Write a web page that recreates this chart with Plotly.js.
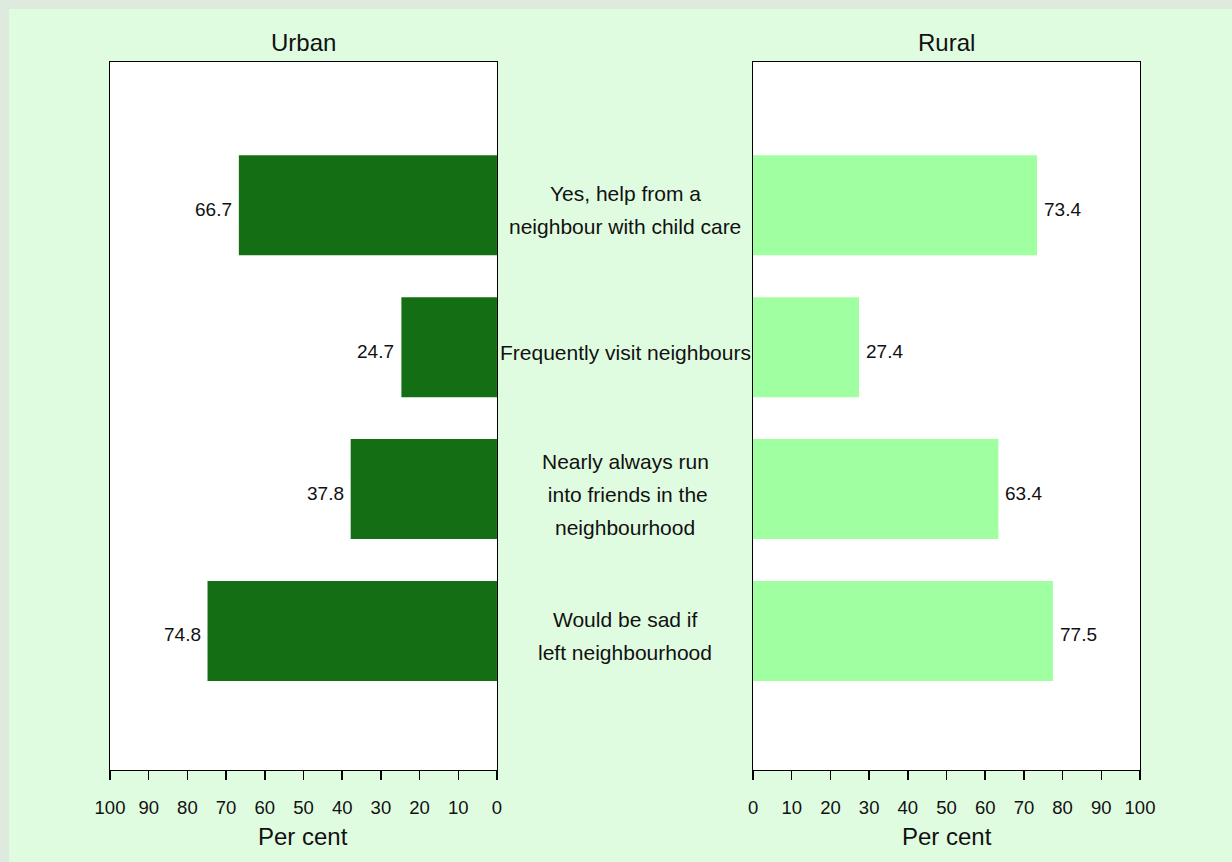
<!DOCTYPE html>
<html>
<head>
<meta charset="utf-8">
<script src="https://cdn.plot.ly/plotly-3.0.1.min.js"></script>
<style>
  html, body { margin: 0; padding: 0; background: #e0fce0; }
  #wrap {
    width: 1223px; height: 853px;
    border-left: 9px solid #dfeadf; border-top: 9px solid #dfeadf;
    background: #e0fce0;
  }
  #chart { width: 1223px; height: 853px; }
</style>
</head>
<body>
<div id="wrap"><div id="chart"></div></div>
<script>
// ---- data ----
const categories = [
  "Yes, help from a neighbour with child care",
  "Frequently visit neighbours",
  "Nearly always run into friends in the neighbourhood",
  "Would be sad if left neighbourhood"
];
const categoryLines = [
  ["Yes, help from a", "neighbour with child care"],
  ["Frequently visit neighbours"],
  ["Nearly always run", " into friends in the", "neighbourhood"],
  ["Would be sad if", "left neighbourhood"]
];
const urbanValues = [66.7, 24.7, 37.8, 74.8];
const ruralValues = [73.4, 27.4, 63.4, 77.5];
const panelTitles = ["Urban", "Rural"];
const axisTitle = "Per cent";
const tickValues = [0, 10, 20, 30, 40, 50, 60, 70, 80, 90, 100];

// ---- styles ----
const FONT = "Liberation Sans, Arial, sans-serif";
const positions = categories.map((c, i) => i);
const fmt = v => v.toFixed(1);

const traces = [
  {
    type: "bar", orientation: "h",
    x: urbanValues, y: positions,
    xaxis: "x", yaxis: "y",
    width: 0.705,
    marker: { color: "#146f14", line: { width: 0 } },
    textposition: "none",
    hoverinfo: "x", showlegend: false
  },
  {
    type: "bar", orientation: "h",
    x: ruralValues, y: positions,
    xaxis: "x2", yaxis: "y2",
    width: 0.705,
    marker: { color: "#a0ffa0", line: { width: 0 } },
    textposition: "none",
    hoverinfo: "x", showlegend: false
  }
];

const xCommon = {
  tickvals: tickValues,
  ticktext: tickValues.map(String),
  ticks: "outside", ticklen: 9, tickwidth: 1.5, tickcolor: "#000",
  ticklabelstandoff: 12,
  showline: true, linecolor: "#000", linewidth: 1, mirror: true,
  showgrid: false, zeroline: false,
  tickfont: { family: FONT, size: 18.5, color: "#111" },
  fixedrange: true
};
const yCommon = {
  range: [3.98, -1.01],
  showline: true, linecolor: "#000", linewidth: 1, mirror: true,
  showgrid: false, zeroline: false, showticklabels: false, ticks: "",
  fixedrange: true
};

const annotations = [];
// panel titles
annotations.push({ text: panelTitles[0], xref: "x domain", yref: "paper", x: 0.5, y: 1, yanchor: "middle", yshift: 20, showarrow: false, font: { family: FONT, size: 24, color: "#111" } });
annotations.push({ text: panelTitles[1], xref: "x2 domain", yref: "paper", x: 0.5, y: 1, yanchor: "middle", yshift: 20, showarrow: false, font: { family: FONT, size: 24, color: "#111" } });
// axis titles
annotations.push({ text: axisTitle, xref: "x domain", yref: "paper", x: 0.5, y: 0, yanchor: "middle", yshift: -66, showarrow: false, font: { family: FONT, size: 24, color: "#111" } });
annotations.push({ text: axisTitle, xref: "x2 domain", yref: "paper", x: 0.5, y: 0, yanchor: "middle", yshift: -66, showarrow: false, font: { family: FONT, size: 24, color: "#111" } });
// value labels
urbanValues.forEach((v, i) => {
  annotations.push({ text: fmt(v), xref: "x", yref: "y", x: v, y: positions[i], xanchor: "right", yanchor: "middle", xshift: -5, yshift: -4, showarrow: false, font: { family: FONT, size: 19, color: "#111" } });
});
ruralValues.forEach((v, i) => {
  annotations.push({ text: fmt(v), xref: "x2", yref: "y2", x: v, y: positions[i], xanchor: "left", yanchor: "middle", xshift: 5, yshift: -4, showarrow: false, font: { family: FONT, size: 19, color: "#111" } });
});
// category labels in the middle
categoryLines.forEach((lines, i) => {
  const n = lines.length;
  lines.forEach((ln, k) => {
    annotations.push({
      text: ln, xref: "paper", yref: "y", x: 0.5, y: positions[i],
      yanchor: "middle", xanchor: "center",
      yshift: -5 - (k - (n - 1) / 2) * 33,
      showarrow: false,
      font: { family: FONT, size: 21, color: "#111" }
    });
  });
});

const layout = {
  width: 1223, height: 853,
  margin: { l: 101, r: 92, t: 53, b: 92 },
  paper_bgcolor: "#e0fce0",
  plot_bgcolor: "#ffffff",
  font: { family: FONT, color: "#111" },
  bargap: 0.3,
  xaxis: Object.assign({}, xCommon, { domain: [0, 0.3757], range: [100, 0], anchor: "y" }),
  yaxis: Object.assign({}, yCommon, { domain: [0, 1], anchor: "x" }),
  xaxis2: Object.assign({}, xCommon, { domain: [0.6243, 1], range: [0, 100], anchor: "y2" }),
  yaxis2: Object.assign({}, yCommon, { domain: [0, 1], anchor: "x2" }),
  annotations: annotations,
  showlegend: false
};

Plotly.newPlot("chart", traces, layout, { displayModeBar: false, staticPlot: true });
</script>
</body>
</html>
